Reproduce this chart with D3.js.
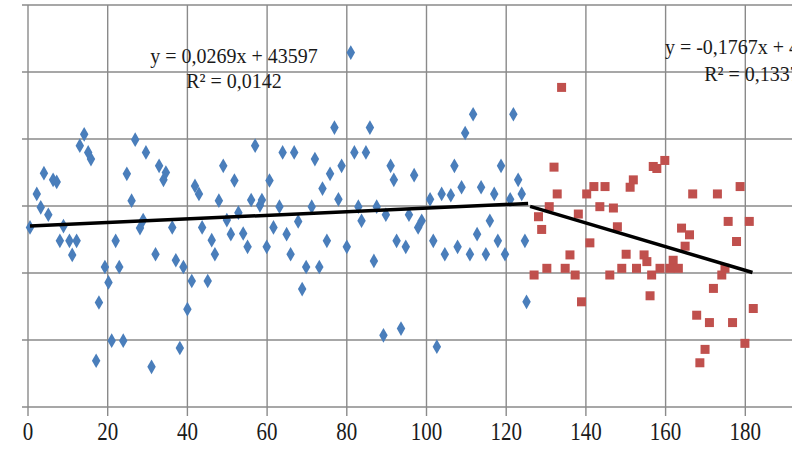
<!DOCTYPE html>
<html>
<head>
<meta charset="utf-8">
<script src="https://cdn.jsdelivr.net/npm/d3@7"></script>
<style>
  body { margin: 0; background: #fff; }
  svg { display: block; }
  text { font-family: "Liberation Serif", "DejaVu Serif", serif; fill: #1a1a1a; }
</style>
</head>
<body>
<div id="chart"></div>
<script>

// first period (blue diamonds)
var blueDays = [0.5, 2.2, 3.2, 4.0, 5.1, 6.3, 7.2, 8.0, 8.9, 10.4, 11.1, 12.2, 13.0, 14.1, 15.1, 15.8,
	17.1, 17.8, 19.3, 20.2, 21.0, 22.0, 22.9, 23.9, 24.8, 26.0, 26.9, 28.1, 28.9, 29.6, 31.0, 32.0,
	32.9, 34.0, 34.6, 36.2, 37.1, 38.1, 39.0, 40.0, 41.1, 41.9, 42.9, 43.7, 45.1, 46.1, 46.9, 47.9,
	49.0, 49.9, 50.9, 51.8, 52.8, 54.0, 55.1, 56.0, 57.0, 58.2, 58.7, 59.9, 60.6, 61.6, 63.1, 63.9,
	64.9, 65.9, 66.8, 67.8, 68.8, 69.8, 71.2, 72.0, 73.1, 73.9, 75.0, 75.8, 76.9, 77.9, 78.7, 80.0,
	81.0, 81.9, 82.9, 83.7, 84.8, 85.8, 86.8, 87.5, 89.2, 89.8, 91.0, 91.8, 92.5, 93.6, 94.8, 95.6,
	96.9, 97.9, 98.8, 100.9, 101.7, 102.6, 103.8, 104.6, 106.1, 107.0, 107.8, 108.8, 109.7, 110.9,
	111.7, 112.7, 113.7, 114.9, 115.9, 117.0, 117.9, 118.7, 119.7, 121.0, 121.8, 123.0, 123.9, 124.7, 125.1];
var blueValues = [43596.8, 43601.8, 43599.8, 43604.9, 43598.7, 43603.9, 43603.6, 43594.8, 43597.0, 43594.8, 43592.7, 43594.8, 43609.0, 43610.7, 43608.0, 43607.0,
	43576.9, 43585.6, 43590.9, 43588.6, 43579.9, 43594.8, 43590.9, 43579.9, 43604.8, 43600.8, 43609.9, 43596.7, 43597.9, 43608.0, 43576.0, 43592.8,
	43606.0, 43603.9, 43605.0, 43596.8, 43591.9, 43578.8, 43590.9, 43584.6, 43588.8, 43603.0, 43601.8, 43596.8, 43588.8, 43594.9, 43592.8, 43600.8,
	43606.0, 43597.9, 43595.8, 43603.8, 43599.0, 43595.9, 43593.9, 43600.9, 43609.0, 43600.1, 43600.9, 43593.9, 43603.8, 43596.8, 43599.9, 43608.0,
	43595.8, 43592.8, 43608.0, 43597.7, 43587.6, 43590.9, 43599.9, 43607.0, 43590.9, 43602.6, 43594.8, 43604.8, 43611.7, 43601.0, 43606.0, 43593.9,
	43622.9, 43608.0, 43599.9, 43597.8, 43608.0, 43611.7, 43591.8, 43599.9, 43580.7, 43598.7, 43606.0, 43603.9, 43594.8, 43581.7, 43593.9, 43598.7,
	43604.6, 43596.8, 43597.8, 43601.0, 43594.8, 43579.0, 43601.8, 43592.8, 43601.6, 43606.0, 43593.9, 43602.8, 43610.9, 43592.8,
	43613.7, 43595.8, 43602.8, 43592.8, 43597.8, 43601.8, 43594.8, 43606.0, 43592.8, 43601.0, 43613.7, 43603.9, 43601.8, 43594.8, 43585.7];

// second period (red squares)
var redDays = [127.0, 128.1, 128.9, 130.2, 130.8, 132.0, 132.8, 133.9, 134.8, 136.0, 137.3, 138.1, 138.9, 140.2,
	141.0, 142.0, 143.5, 144.8, 146.0, 146.9, 147.9, 149.0, 150.1, 151.1, 151.9, 152.7, 154.6, 155.3, 156.1,
	156.5, 156.9, 157.8, 158.6, 159.8, 161.1, 161.9, 163.2, 164.0, 164.9, 166.0, 166.8, 167.8, 168.6, 169.9,
	171.0, 172.0, 173.0, 174.1, 174.9, 175.7, 176.8, 177.8, 178.7, 179.9, 181.0, 182.0];
var redValues = [43589.7, 43598.4, 43596.5, 43590.7, 43599.9, 43605.8, 43601.8, 43617.7, 43590.7, 43592.7, 43589.7, 43598.8, 43585.7, 43601.8,
	43594.5, 43602.9, 43599.9, 43602.9, 43589.7, 43599.7, 43596.9, 43590.7, 43592.8, 43602.8, 43603.9, 43590.7, 43592.7, 43591.7, 43586.6,
	43589.7, 43605.9, 43605.6, 43590.7, 43606.8, 43590.7, 43591.9, 43590.7, 43596.7, 43594.0, 43595.7, 43601.8, 43583.7, 43576.6, 43578.6,
	43582.6, 43587.7, 43601.8, 43589.7, 43590.7, 43597.7, 43582.6, 43594.7, 43602.9, 43579.5, 43597.7, 43584.7];

// linear trends: [slope, intercept], fitted range, labels
var blueTrend = [0.0269, 43597];
var blueTrendRange = [0.5, 125.5];
var blueLabels = ["y = 0,0269x + 43597", "R\u00b2 = 0,0142"];
var redTrend = [-0.1767, 43622.2];
var redTrendRange = [126, 181.8];
var redLabels = ["y = -0,1767x + 43622", "R\u00b2 = 0,1337"];

var xTicks = [0, 20, 40, 60, 80, 100, 120, 140, 160, 180];
var yTicks = [43570, 43580, 43590, 43600, 43610, 43620, 43630];

var width = 792, height = 455;

var svg = d3.select("#chart")
	.append("svg")
	.attr("width", width)
	.attr("height", height);

var x = d3.scaleLinear().domain([0, 200]).range([28, 825]);
var y = d3.scaleLinear().domain([43570, 43630]).range([407, 5]);

// grid
svg.append("g")
	.selectAll("line")
	.data(yTicks)
	.enter().append("line")
	.attr("x1", x(0) - 6)
	.attr("x2", width)
	.attr("y1", function(d) { return y(d); })
	.attr("y2", function(d) { return y(d); })
	.style("stroke", "#8a8a8a")
	.style("stroke-width", 1.4);

svg.append("g")
	.selectAll("line")
	.data(xTicks)
	.enter().append("line")
	.attr("x1", function(d) { return x(d); })
	.attr("x2", function(d) { return x(d); })
	.attr("y1", y(43630))
	.attr("y2", y(43570) + 9)
	.style("stroke", "#8a8a8a")
	.style("stroke-width", 1.4);

// x tick labels
svg.append("g")
	.selectAll("text")
	.data(xTicks)
	.enter().append("text")
	.attr("transform", function(d) { return "translate(" + x(d) + ",440) scale(1,1.15)"; })
	.attr("text-anchor", "middle")
	.style("font-size", "21px")
	.text(function(d) { return d; });

// points
var diamond = d3.symbol().type(d3.symbolDiamond).size(62);
svg.append("g")
	.selectAll("path")
	.data(d3.zip(blueDays, blueValues))
	.enter().append("path")
	.attr("d", diamond)
	.attr("transform", function(d) { return "translate(" + x(d[0]) + "," + y(d[1]) + ")"; })
	.style("fill", "#4a7ebb");

svg.append("g")
	.selectAll("rect")
	.data(d3.zip(redDays, redValues))
	.enter().append("rect")
	.attr("x", function(d) { return x(d[0]) - 4.5; })
	.attr("y", function(d) { return y(d[1]) - 4.5; })
	.attr("width", 9)
	.attr("height", 9)
	.style("fill", "#c0504d");

// trend lines
function trendLine(coef, range) {
	svg.append("line")
		.attr("x1", x(range[0]))
		.attr("y1", y(coef[0] * range[0] + coef[1]))
		.attr("x2", x(range[1]))
		.attr("y2", y(coef[0] * range[1] + coef[1]))
		.style("stroke", "#000")
		.style("stroke-width", 3.5);
}
trendLine(blueTrend, blueTrendRange);
trendLine(redTrend, redTrendRange);

// equation labels
function eqLabel(lines, cx, baselines) {
	svg.append("g")
		.selectAll("text")
		.data(lines)
		.enter().append("text")
		.attr("transform", function(d, i) { return "translate(" + cx + "," + baselines[i] + ") scale(1,1.1)"; })
		.attr("text-anchor", "middle")
		.style("font-size", "20px")
		.text(function(d) { return d; });
}
eqLabel(blueLabels, 234, [63, 88]);
eqLabel(redLabels, 752, [54, 81]);

</script>
</body>
</html>
